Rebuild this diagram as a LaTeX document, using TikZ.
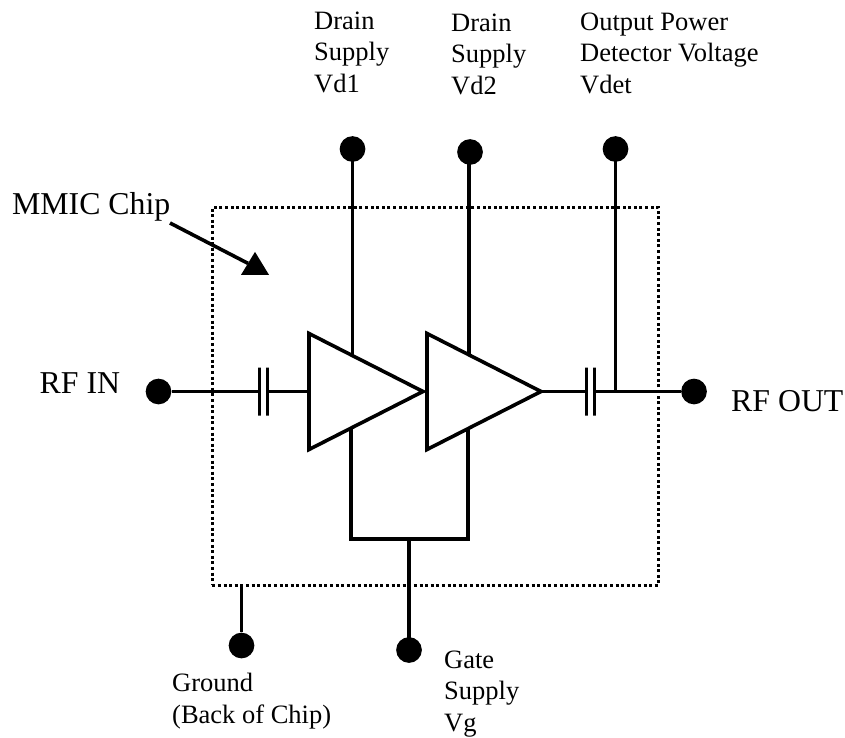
\documentclass[tikz,border=0pt]{standalone}
\usepackage{fontspec}
\setmainfont{Liberation Serif}
\usetikzlibrary{shapes.geometric}
\begin{document}
\begin{tikzpicture}[x=1pt,y=-1pt]
		\tikzstyle{Terminal} = [circle, minimum size=25.7pt, inner sep=0pt, draw=none, fill=black]
		\tikzstyle{Amp} = [isosceles triangle, isosceles triangle apex angle=54, isosceles triangle stretches, minimum width=116pt, minimum height=114pt, inner sep=0pt, outer sep=0pt, anchor=lower side, draw=black, line width=3.6pt, fill=white]
		\tikzstyle{Plate} = [rectangle, minimum width=0pt, minimum height=48pt, inner sep=0pt, outer sep=0pt, draw=black, line width=3.6pt]
		\tikzstyle{Chip} = [rectangle, minimum width=446pt, minimum height=378pt, inner sep=0pt, outer sep=0pt, draw=black, line width=3pt, dash pattern=on 3pt off 2.6pt]
		\tikzstyle{ArrowHead} = [isosceles triangle, isosceles triangle apex angle=65, isosceles triangle stretches, shape border rotate=90, minimum width=28pt, minimum height=23pt, inner sep=0pt, outer sep=0pt, draw=none, fill=black]
		\tikzstyle{Small} = [align=left, anchor=north west, inner sep=0pt, font=\fontsize{26.5}{31.5}\selectfont]
		\tikzstyle{Big} = [inner sep=0pt, anchor=base west, font=\fontsize{31.8}{36}\selectfont]
		\tikzstyle{wire} = [line width=3.6pt]

		\useasboundingbox (0,0) rectangle (845,738);
		\node (chip) [Chip] at (435.3,396.3) {};

		% terminals
		\node (rfIn) [Terminal] at (158.5,391.5) {};
		\node (rfOut) [Terminal] at (694,391.5) {};
		\node (vdOne) [Terminal] at (352.5,149) {};
		\node (vdTwo) [Terminal] at (470,152) {};
		\node (vDet) [Terminal] at (615.5,149) {};
		\node (gnd) [Terminal] at (241.5,645.5) {};
		\node (vGate) [Terminal] at (409,650) {};

		% supplies
		\coordinate (vdOneEnd) at (352.5,380);
		\coordinate (vdTwoEnd) at (469,380);
		\draw [wire] (vdOne.center) -- (vdOneEnd);
		\draw [wire] (vdTwo.center -| vdTwoEnd) -- (vdTwoEnd);
		\draw [wire] (vDet.center) -- (vDet |- rfOut);

		% gate feed
		\coordinate (gateA) at (351,420);
		\coordinate (gateB) at (467.7,420);
		\coordinate (gateJoin) at (409,539);
		\draw [wire] (gateA) |- (gateJoin);
		\draw [wire] (gateB) |- (gateJoin);
		\draw [wire] (vGate.center) -- (gateJoin);
		\draw [wire] (gnd) -- (gnd |- chip.south);

		% amplifiers and capacitors
		\node (capInA) [Plate] at (259.3,391.5) {};
		\node (capInB) [Plate] at (267.3,391.5) {};
		\node (capOutA) [Plate] at (586.3,391.5) {};
		\node (capOutB) [Plate] at (594.3,391.5) {};
		\node (ampOne) [Amp] at (309,391.5) {};
		\node (ampTwo) [Amp] at (427,391.5) {};
		\draw [wire] (rfIn) -- (capInA);
		\draw [wire] (capInB) -- (ampOne.lower side);
		\draw [wire] (ampTwo.apex) -- (capOutA);
		\draw [wire] (capOutB) -- (rfOut);

		% labels
		\node (vdOneText) [Small] at (314,11.5) {Drain\\Supply\\Vd1};
		\node (vdTwoText) [Small] at (451,13.7) {Drain\\Supply\\Vd2};
		\node (vDetText) [Small] at (580,12.7) {Output Power\\Detector Voltage\\Vdet};
		\node (gndText) [Small] at (172,673) {Ground\\(Back of Chip)};
		\node (vGateText) [Small] at (444,650.5) {Gate\\Supply\\Vg};
		\node (rfInText) [Big] at (39.5,393.3) {RF IN};
		\node (rfOutText) [Big] at (731,411.7) {RF OUT};
		\node (chipText) [Big] at (12,214.5) {MMIC Chip};
		\coordinate (chipTail) at (170,223);
		\node (chipHead) [ArrowHead] at (255,267) {};
		\draw [wire] (chipTail) -- (chipHead);
		\end{tikzpicture}
\end{document}
